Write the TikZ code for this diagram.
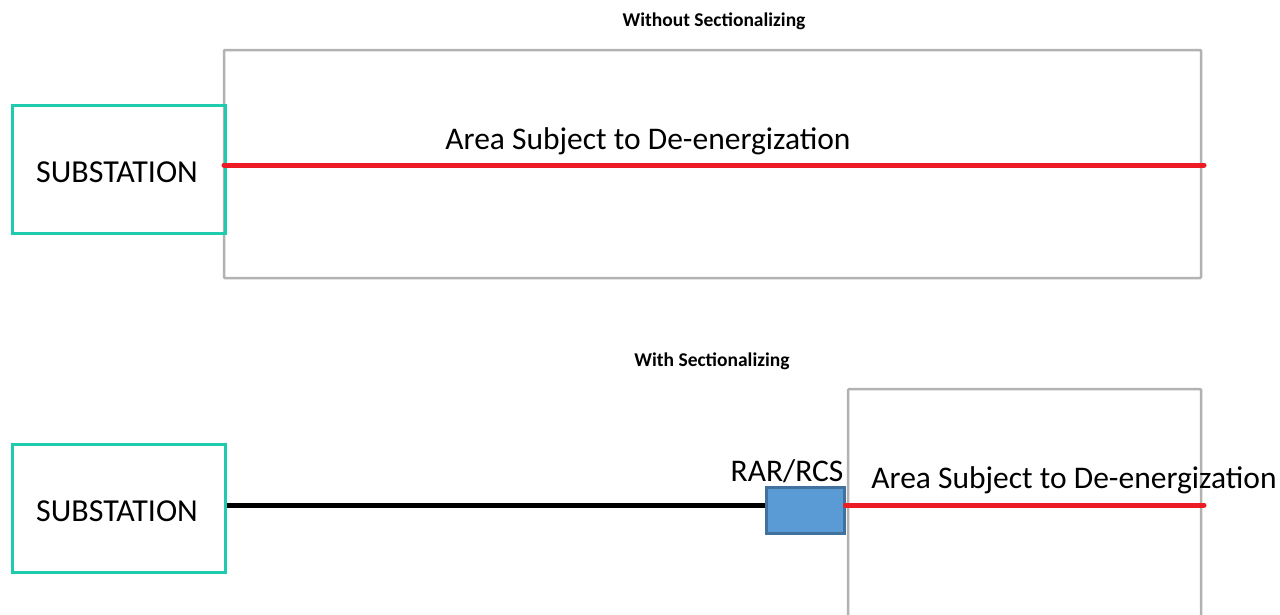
\documentclass[tikz,border=0pt]{standalone}
\usepackage{fontspec}
\setmainfont{Carlito}
\begin{document}
\begin{tikzpicture}[x=1pt,y=-1pt,
  subst/.style={draw=teal1,line width=3pt,minimum width=213pt,minimum height=128pt,inner sep=0pt,font=\fontsize{32}{36}\selectfont},
  area/.style={draw=gray!60,line width=2.5pt,inner sep=0pt,rounded corners=1pt},
  lbl/.style={inner sep=0pt,font=\fontsize{31.5}{36}\selectfont},
  ttl/.style={inner sep=0pt,font=\fontsize{19.5}{22}\selectfont\bfseries},
  redline/.style={draw=red1,line width=5pt,line cap=round},
  blkline/.style={draw=black,line width=5pt}]
\definecolor{teal1}{HTML}{1FCBAE}
\definecolor{red1}{HTML}{ED1C24}
\definecolor{blue1}{HTML}{5B9BD5}
\definecolor{blue2}{HTML}{41719C}
\useasboundingbox (0,0) rectangle (1280,614);
% top panel
\node[ttl] (t1) at (714,21) {Without Sectionalizing};
\draw[area] (224,50) rectangle (1201,278);
\node[subst] (s1) at (118.5,169) {};
\node[lbl,font=\fontsize{32}{36}\selectfont] (s1t) at (117,172) {SUBSTATION};
\coordinate (e1) at (1204,165);
\coordinate (b1) at (224,165);
\draw[redline] (b1) -- (e1);
\node[lbl] (a1) at (648,141) {Area Subject to De-energization};
% bottom panel
\node[ttl] (t2) at (712,361) {With Sectionalizing};
\draw[area] (848,389) -- (1201,389) -- (1201,618) (848,389) -- (848,618);
\node[subst] (s2) at (118.5,508.5) {};
\node[lbl,font=\fontsize{32}{36}\selectfont] (s2t) at (117,511) {SUBSTATION};
\node[draw=blue2,fill=blue1,line width=3pt,minimum width=78pt,minimum height=46pt,inner sep=0pt] (r) at (805,510.5) {};
\node[lbl,anchor=south] (rl) at (787,483) {RAR/RCS};
\draw[blkline] (s2.east |- 0,505) -- (r.west |- 0,505);
\coordinate (e2) at (1204,505);
\draw[redline] (r.east |- 0,505) -- (e2);
\node[lbl] (a2) at (1074,480) {Area Subject to De-energization};
\end{tikzpicture}
\end{document}
